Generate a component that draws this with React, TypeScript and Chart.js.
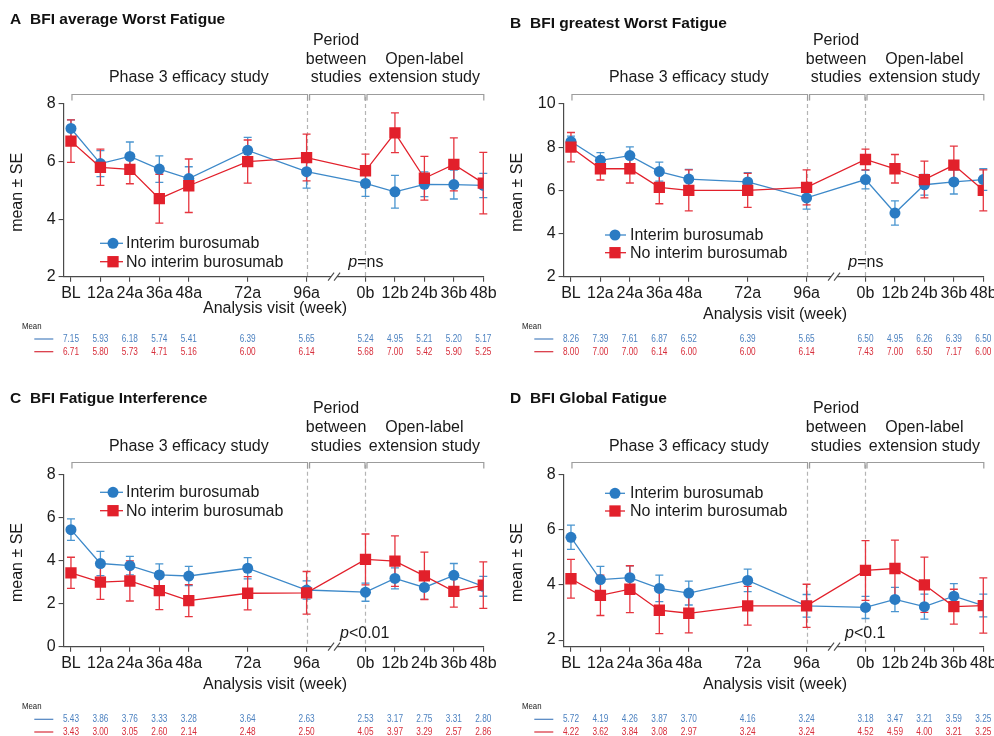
import React, { useEffect, useRef } from 'react';
import { Chart, registerables } from 'chart.js';
Chart.register(...registerables);

const FONT = '"Liberation Sans", Arial, Helvetica, sans-serif';
const AXIS = '#4a4a4a';
const BLUE = '#2a7bc3';
const BLUE_LINE = '#3d89c9';
const BLUE_ERR = '#4a95d0';
const RED = '#e2202b';
const RED_ERR = '#e6353f';
const TBL_BLUE = '#4d82c0';
const TBL_RED = '#d72e3b';

const visitLabels = ['BL', '12a', '24a', '36a', '48a', '72a', '96a', '0b', '12b', '24b', '36b', '48b'];
const visitWeeks = [0, 12, 24, 36, 48, 72, 96, 120, 132, 144, 156, 168];

// Panel A: BFI average Worst Fatigue
const aInterimMean = [7.15, 5.93, 6.18, 5.74, 5.41, 6.39, 5.65, 5.24, 4.95, 5.21, 5.20, 5.17];
const aInterimSE = [0.30, 0.45, 0.50, 0.46, 0.41, 0.45, 0.57, 0.45, 0.57, 0.43, 0.50, 0.42];
const aNoMean = [6.71, 5.80, 5.73, 4.71, 5.16, 6.00, 6.14, 5.68, 7.00, 5.42, 5.90, 5.25];
const aNoSE = [0.74, 0.63, 0.50, 0.85, 0.93, 0.75, 0.81, 0.58, 0.69, 0.76, 0.92, 1.07];
const aYTicks = [2, 4, 6, 8];

// Panel B: BFI greatest Worst Fatigue
const bInterimMean = [8.26, 7.39, 7.61, 6.87, 6.52, 6.39, 5.65, 6.50, 4.95, 6.26, 6.39, 6.50];
const bInterimSE = [0.25, 0.36, 0.40, 0.44, 0.45, 0.43, 0.52, 0.43, 0.56, 0.48, 0.56, 0.50];
const bNoMean = [8.00, 7.00, 7.00, 6.14, 6.00, 6.00, 6.14, 7.43, 7.00, 6.50, 7.17, 6.00];
const bNoSE = [0.68, 0.52, 0.66, 0.76, 0.95, 0.79, 0.81, 0.48, 0.66, 0.85, 0.88, 0.95];
const bYTicks = [2, 4, 6, 8, 10];

// Panel C: BFI Fatigue Interference
const cInterimMean = [5.43, 3.86, 3.76, 3.33, 3.28, 3.64, 2.63, 2.53, 3.17, 2.75, 3.31, 2.80];
const cInterimSE = [0.50, 0.56, 0.43, 0.51, 0.45, 0.49, 0.42, 0.42, 0.49, 0.55, 0.55, 0.46];
const cNoMean = [3.43, 3.00, 3.05, 2.60, 2.14, 2.48, 2.50, 4.05, 3.97, 3.29, 2.57, 2.86];
const cNoSE = [0.72, 0.80, 0.93, 0.88, 0.74, 0.77, 0.99, 1.18, 1.17, 1.10, 0.73, 1.08];
const cYTicks = [0, 2, 4, 6, 8];

// Panel D: BFI Global Fatigue
const dInterimMean = [5.72, 4.19, 4.26, 3.87, 3.70, 4.16, 3.24, 3.18, 3.47, 3.21, 3.59, 3.25];
const dInterimSE = [0.44, 0.48, 0.43, 0.48, 0.43, 0.41, 0.41, 0.40, 0.44, 0.45, 0.45, 0.41];
const dNoMean = [4.22, 3.62, 3.84, 3.08, 2.97, 3.24, 3.24, 4.52, 4.59, 4.00, 3.21, 3.25];
const dNoSE = [0.70, 0.73, 0.85, 0.85, 0.71, 0.70, 0.78, 1.08, 1.03, 1.00, 0.63, 1.00];
const dYTicks = [2, 4, 6, 8];

const seriesNames = ['Interim burosumab', 'No interim burosumab'];
const periodHeaders = ['Phase 3 efficacy study', 'Period|between|studies', 'Open-label|extension study'];

type Layout = {
  left: number; top: number; H: number;
  titleBase: number; headBase: number[]; bracketY: number;
  plotTop: number; plotBottom: number; xTitleY: number;
  meanY: number; row1: number; row2: number;
  legLine: [number, number]; legMarker: number; legText: number; legY1: number; legY2: number;
  pX: number; pBase: number;
};

type PanelCfg = {
  letter: string; title: string;
  yMin: number; yMax: number; yTicks: number[];
  interim: number[]; interimSE: number[]; no: number[]; noSE: number[];
  pRest: string;
  L: Layout;
};

const XAXIS_H = 30;
const YAXIS_W = 63.6;

const panels: PanelCfg[] = [
  {
    letter: 'A', title: 'BFI average Worst Fatigue', yMin: 2, yMax: 8, yTicks: aYTicks,
    interim: aInterimMean, interimSE: aInterimSE, no: aNoMean, noSE: aNoSE, pRest: '=ns',
    L: { left: 0, top: 0, H: 370, titleBase: 23.5, headBase: [45, 63.5, 82], bracketY: 94,
      plotTop: 104, plotBottom: 276.7, xTitleY: 309, meanY: 326.7, row1: 339, row2: 351.7,
      legLine: [100, 123], legMarker: 113, legText: 126, legY1: 243.3, legY2: 261.7, pX: 348.3, pBase: 266.7 },
  },
  {
    letter: 'B', title: 'BFI greatest Worst Fatigue', yMin: 2, yMax: 10, yTicks: bYTicks,
    interim: bInterimMean, interimSE: bInterimSE, no: bNoMean, noSE: bNoSE, pRest: '=ns',
    L: { left: 500, top: 0, H: 370, titleBase: 27.5, headBase: [45, 63.5, 82], bracketY: 94,
      plotTop: 104, plotBottom: 276.7, xTitleY: 315, meanY: 326.7, row1: 339, row2: 351.7,
      legLine: [105, 126], legMarker: 115, legText: 130, legY1: 235, legY2: 252.7, pX: 348.3, pBase: 266.7 },
  },
  {
    letter: 'C', title: 'BFI Fatigue Interference', yMin: 0, yMax: 8, yTicks: cYTicks,
    interim: cInterimMean, interimSE: cInterimSE, no: cNoMean, noSE: cNoSE, pRest: '<0.01',
    L: { left: 0, top: 370, H: 366, titleBase: 32.7, headBase: [43.3, 61.7, 81], bracketY: 91.7,
      plotTop: 104.3, plotBottom: 276.7, xTitleY: 315, meanY: 336.7, row1: 349.3, row2: 362,
      legLine: [100, 123], legMarker: 113, legText: 126, legY1: 122.3, legY2: 140.7, pX: 340, pBase: 268.3 },
  },
  {
    letter: 'D', title: 'BFI Global Fatigue', yMin: 1.76, yMax: 8, yTicks: dYTicks,
    interim: dInterimMean, interimSE: dInterimSE, no: dNoMean, noSE: dNoSE, pRest: '<0.1',
    L: { left: 500, top: 370, H: 366, titleBase: 32.7, headBase: [43.3, 61.7, 81], bracketY: 91.7,
      plotTop: 104.3, plotBottom: 276.7, xTitleY: 315, meanY: 336.7, row1: 349.3, row2: 362,
      legLine: [105, 125], legMarker: 115, legText: 130, legY1: 123.3, legY2: 141, pX: 345, pBase: 268.3 },
  },
];

function drawSquare(ctx: CanvasRenderingContext2D, x: number, y: number, s: number) {
  ctx.fillRect(x - s / 2, y - s / 2, s, s);
}

function makeDecor(cfg: PanelCfg) {
  const L = cfg.L;
  return {
    id: 'decor',
    beforeDatasetsDraw(chart: any) {
      const ctx: CanvasRenderingContext2D = chart.ctx;
      const xs = chart.scales.x;
      const ys = chart.scales.y;
      const area = chart.chartArea;
      // dashed separators
      ctx.save();
      ctx.strokeStyle = '#b4b4b4';
      ctx.lineWidth = 1.2;
      ctx.setLineDash([4, 3]);
      [96, 120].forEach((w) => {
        const px = Math.round(xs.getPixelForValue(w)) + 0.5;
        ctx.beginPath();
        ctx.moveTo(px, L.bracketY + 3);
        ctx.lineTo(px, area.bottom);
        ctx.stroke();
      });
      ctx.restore();
      // error bars
      const groups = [
        { m: cfg.interim, se: cfg.interimSE, c: BLUE_ERR },
        { m: cfg.no, se: cfg.noSE, c: RED_ERR },
      ];
      ctx.save();
      ctx.lineWidth = 1.3;
      groups.forEach((g) => {
        ctx.strokeStyle = g.c;
        g.m.forEach((v, i) => {
          const px = xs.getPixelForValue(visitWeeks[i]);
          const yt = ys.getPixelForValue(v + g.se[i]);
          const yb = ys.getPixelForValue(v - g.se[i]);
          ctx.beginPath();
          ctx.moveTo(px, yt);
          ctx.lineTo(px, yb);
          ctx.moveTo(px - 4, yt);
          ctx.lineTo(px + 4, yt);
          ctx.moveTo(px - 4, yb);
          ctx.lineTo(px + 4, yb);
          ctx.stroke();
        });
      });
      ctx.restore();
    },
    afterDraw(chart: any) {
      const ctx: CanvasRenderingContext2D = chart.ctx;
      const xs = chart.scales.x;
      const area = chart.chartArea;
      ctx.save();
      // title
      ctx.fillStyle = '#111';
      ctx.textBaseline = 'alphabetic';
      ctx.textAlign = 'left';
      ctx.font = `bold 15.5px ${FONT}`;
      ctx.fillText(cfg.letter, 10, L.titleBase);
      ctx.fillText(cfg.title, 30, L.titleBase);
      // period headers
      ctx.font = `16px ${FONT}`;
      ctx.fillStyle = '#1a1a1a';
      ctx.textAlign = 'center';
      const centers = [xs.getPixelForValue(48), xs.getPixelForValue(108), xs.getPixelForValue(144)];
      periodHeaders.forEach((h, k) => {
        const lines = h.split('|');
        const start = 3 - lines.length;
        lines.forEach((ln, j) => ctx.fillText(ln, centers[k], L.headBase[start + j]));
      });
      // brackets
      ctx.strokeStyle = '#9c9c9c';
      ctx.lineWidth = 1.2;
      const segs: [number, number][] = [
        [xs.getPixelForValue(0) + 1, xs.getPixelForValue(96) + 1],
        [xs.getPixelForValue(96) + 3, xs.getPixelForValue(120) - 0.5],
        [xs.getPixelForValue(120) + 1.5, xs.getPixelForValue(168) + 0.5],
      ];
      const by = Math.round(L.bracketY) + 0.5;
      segs.forEach(([a, b]) => {
        ctx.beginPath();
        ctx.moveTo(a, by + 6);
        ctx.lineTo(a, by);
        ctx.lineTo(b, by);
        ctx.lineTo(b, by + 6);
        ctx.stroke();
      });
      // axis break
      const bx = xs.getPixelForValue(107.2);
      const ay = area.bottom;
      ctx.fillStyle = '#ffffff';
      ctx.fillRect(bx - 3, ay - 2, 6, 4);
      ctx.strokeStyle = AXIS;
      ctx.lineWidth = 1.1;
      [-3, 3].forEach((d) => {
        ctx.beginPath();
        ctx.moveTo(bx + d - 3, ay + 4);
        ctx.lineTo(bx + d + 3, ay - 4);
        ctx.stroke();
      });
      // p value
      ctx.fillStyle = '#1a1a1a';
      ctx.textAlign = 'left';
      ctx.font = `italic 16px ${FONT}`;
      ctx.fillText('p', L.pX, L.pBase);
      const pw = ctx.measureText('p').width;
      ctx.font = `16px ${FONT}`;
      ctx.fillText(cfg.pRest, L.pX + pw, L.pBase);
      // legend
      const legRows = [
        { y: L.legY1, c: BLUE, lc: BLUE_LINE, circle: true, t: seriesNames[0] },
        { y: L.legY2, c: RED, lc: RED, circle: false, t: seriesNames[1] },
      ];
      legRows.forEach((r) => {
        ctx.strokeStyle = r.lc;
        ctx.lineWidth = 1.3;
        ctx.beginPath();
        ctx.moveTo(L.legLine[0], r.y);
        ctx.lineTo(L.legLine[1], r.y);
        ctx.stroke();
        ctx.fillStyle = r.c;
        if (r.circle) {
          ctx.beginPath();
          ctx.arc(L.legMarker, r.y, 5.5, 0, Math.PI * 2);
          ctx.fill();
        } else {
          drawSquare(ctx, L.legMarker, r.y, 11.3);
        }
        ctx.fillStyle = '#1a1a1a';
        ctx.font = `16px ${FONT}`;
        ctx.textBaseline = 'middle';
        ctx.textAlign = 'left';
        ctx.fillText(r.t, L.legText, r.y + 0.5);
      });
      // axis titles
      ctx.textAlign = 'center';
      ctx.textBaseline = 'middle';
      ctx.font = `16px ${FONT}`;
      ctx.fillText('Analysis visit (week)', 275, L.xTitleY);
      ctx.save();
      ctx.translate(18, (area.top + area.bottom) / 2 + 2);
      ctx.rotate(-Math.PI / 2);
      ctx.fillText('mean ± SE', 0, 0);
      ctx.restore();
      // mean table
      ctx.save();
      ctx.translate(22, L.meanY);
      ctx.scale(0.82, 1);
      ctx.textAlign = 'left';
      ctx.font = `9.5px ${FONT}`;
      ctx.fillStyle = '#222';
      ctx.fillText('Mean', 0, 0);
      ctx.restore();
      const rows = [
        { y: L.row1, c: TBL_BLUE, v: cfg.interim },
        { y: L.row2, c: TBL_RED, v: cfg.no },
      ];
      rows.forEach((r) => {
        ctx.strokeStyle = r.c;
        ctx.lineWidth = 1.2;
        ctx.beginPath();
        ctx.moveTo(34.3, r.y);
        ctx.lineTo(53.3, r.y);
        ctx.stroke();
        ctx.fillStyle = r.c;
        ctx.font = `11px ${FONT}`;
        r.v.forEach((val, i) => {
          const px = xs.getPixelForValue(visitWeeks[i]);
          ctx.save();
          ctx.translate(px, r.y);
          ctx.scale(0.75, 1);
          ctx.textAlign = 'center';
          ctx.fillText(val.toFixed(2), 0, 0);
          ctx.restore();
        });
      });
      ctx.restore();
    },
  };
}

function Panel({ cfg }: { cfg: PanelCfg }) {
  const ref = useRef<HTMLCanvasElement>(null);
  useEffect(() => {
    const L = cfg.L;
    const toPts = (arr: number[]) => arr.map((v, i) => ({ x: visitWeeks[i], y: v }));
    const tickFont = { family: FONT, size: 16 };
    const chart = new Chart(ref.current as HTMLCanvasElement, {
      type: 'line',
      data: {
        datasets: [
          {
            label: seriesNames[0],
            data: toPts(cfg.interim),
            borderColor: BLUE_LINE,
            backgroundColor: BLUE,
            borderWidth: 1.3,
            pointStyle: 'circle',
            pointRadius: 5.5,
            pointBackgroundColor: BLUE,
            pointBorderColor: BLUE,
            pointBorderWidth: 0,
            order: 1,
          } as any,
          {
            label: seriesNames[1],
            data: toPts(cfg.no),
            borderColor: RED,
            backgroundColor: RED,
            borderWidth: 1.3,
            pointStyle: 'rect',
            pointRadius: 8,
            pointBackgroundColor: RED,
            pointBorderColor: RED,
            pointBorderWidth: 0,
            order: 0,
          } as any,
        ],
      },
      options: {
        responsive: false,
        animation: false,
        events: [],
        layout: {
          padding: { left: 0, right: 500 - 483.3, top: L.plotTop, bottom: L.H - L.plotBottom - XAXIS_H },
        },
        plugins: { legend: { display: false }, tooltip: { enabled: false } },
        scales: {
          x: {
            type: 'linear',
            min: -3,
            max: 168,
            afterBuildTicks: (s: any) => {
              s.ticks = visitWeeks.map((v) => ({ value: v }));
            },
            afterFit: (s: any) => {
              s.height = XAXIS_H;
            },
            ticks: {
              autoSkip: false,
              maxRotation: 0,
              minRotation: 0,
              padding: 2,
              color: '#1a1a1a',
              font: tickFont,
              callback: (v: any) => {
                const i = visitWeeks.indexOf(Number(v));
                return i >= 0 ? visitLabels[i] : '';
              },
            },
            grid: { display: true, drawOnChartArea: false, drawTicks: true, tickLength: 5, color: AXIS, lineWidth: 1.1 },
            border: { display: true, color: AXIS, width: 1.2 },
          },
          y: {
            type: 'linear',
            min: cfg.yMin,
            max: cfg.yMax,
            afterBuildTicks: (s: any) => {
              s.ticks = cfg.yTicks.map((v) => ({ value: v }));
            },
            afterFit: (s: any) => {
              s.width = YAXIS_W;
            },
            ticks: { color: '#1a1a1a', font: tickFont, padding: 3 },
            grid: { display: true, drawOnChartArea: false, drawTicks: true, tickLength: 5, color: AXIS, lineWidth: 1.1 },
            border: { display: true, color: AXIS, width: 1.2 },
          },
        },
      },
      plugins: [makeDecor(cfg)],
    });
    return () => chart.destroy();
  }, [cfg]);
  return (
    <div style={{ position: 'absolute', left: cfg.L.left, top: cfg.L.top, width: 500, height: cfg.L.H }}>
      <canvas ref={ref} width={500} height={cfg.L.H} style={{ width: 500, height: cfg.L.H, display: 'block' }} />
    </div>
  );
}

export default function App() {
  return (
    <div style={{ position: 'absolute', left: 0, top: 0, width: 994, height: 736, overflow: 'hidden', background: '#fff' }}>
      {panels.map((p) => (
        <Panel key={p.letter} cfg={p} />
      ))}
    </div>
  );
}
